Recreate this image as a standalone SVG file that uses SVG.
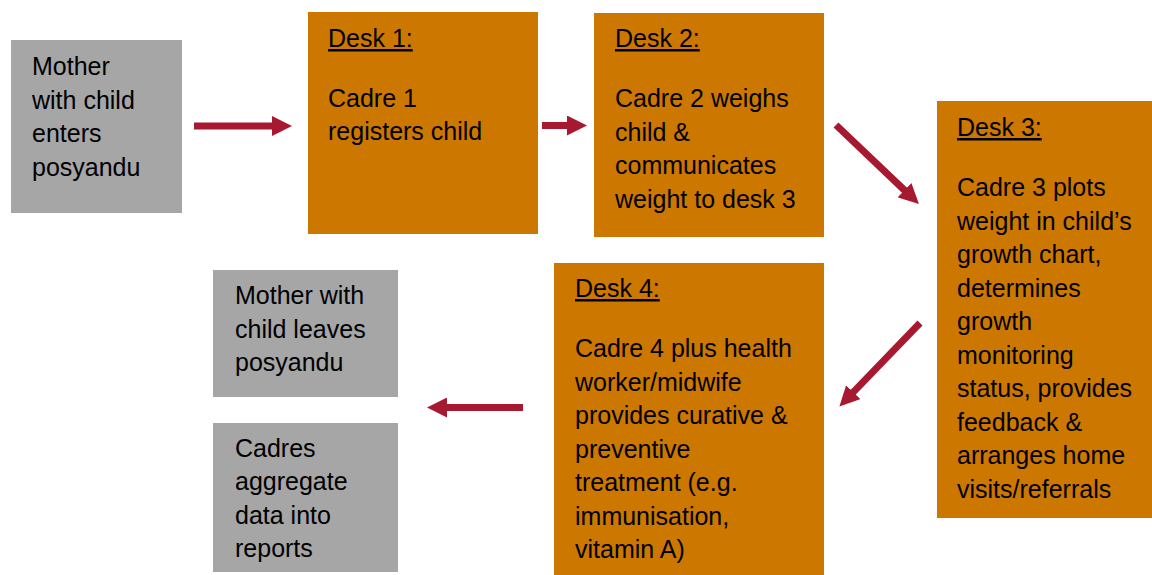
<svg xmlns="http://www.w3.org/2000/svg" width="1152" height="575" viewBox="0 0 1152 575">
<style>
.gray{fill:#A6A6A6}
.desk{fill:#CC7700}
text{font-family:"Liberation Sans",Arial,sans-serif;font-size:25px;fill:#000}
.hd{text-decoration:underline}
.arr{stroke:#A71930;stroke-width:7;fill:none;marker-end:url(#ah)}
</style>
<defs>
<marker id="ah" markerUnits="userSpaceOnUse" markerWidth="20" markerHeight="20" viewBox="0 0 20 20" refX="1" refY="10" orient="auto">
<path d="M0,0 L20,10 L0,20 z" fill="#A71930"/>
</marker>
</defs>
<rect width="1152" height="575" fill="#fff"/>
<g id="start">
<rect class="gray" x="11" y="40" width="171" height="173"/>
<text x="32" y="75">Mother</text>
<text x="32" y="108.5">with child</text>
<text x="32" y="142">enters</text>
<text x="32" y="175.5">posyandu</text>
</g>
<g id="desk1">
<rect class="desk" x="308" y="12" width="230" height="222"/>
<text class="hd" x="328" y="47">Desk 1:</text>
<text x="328" y="107">Cadre 1</text>
<text x="328" y="140">registers child</text>
</g>
<g id="desk2">
<rect class="desk" x="594" y="13" width="230" height="224"/>
<text class="hd" x="615" y="47">Desk 2:</text>
<text x="615" y="107">Cadre 2 weighs</text>
<text x="615" y="140.5">child &amp;</text>
<text x="615" y="174">communicates</text>
<text x="615" y="207.5">weight to desk 3</text>
</g>
<g id="desk3">
<rect class="desk" x="937" y="101" width="215" height="417"/>
<text class="hd" x="957" y="136">Desk 3:</text>
<text x="957" y="196">Cadre 3 plots</text>
<text x="957" y="229.5">weight in child’s</text>
<text x="957" y="263">growth chart,</text>
<text x="957" y="296.5">determines</text>
<text x="957" y="330">growth</text>
<text x="957" y="363.5">monitoring</text>
<text x="957" y="397">status, provides</text>
<text x="957" y="430.5">feedback &amp;</text>
<text x="957" y="464">arranges home</text>
<text x="957" y="497.5">visits/referrals</text>
</g>
<g id="desk4">
<rect class="desk" x="554" y="263" width="270" height="312"/>
<text class="hd" x="575" y="297">Desk 4:</text>
<text x="575" y="357">Cadre 4 plus health</text>
<text x="575" y="390.5">worker/midwife</text>
<text x="575" y="424">provides curative &amp;</text>
<text x="575" y="457.5">preventive</text>
<text x="575" y="491">treatment (e.g.</text>
<text x="575" y="524.5">immunisation,</text>
<text x="575" y="558">vitamin A)</text>
</g>
<g id="leave">
<rect class="gray" x="213" y="270" width="185" height="127"/>
<text x="235" y="304">Mother with</text>
<text x="235" y="337.5">child leaves</text>
<text x="235" y="371">posyandu</text>
</g>
<g id="report">
<rect class="gray" x="213" y="423" width="185" height="149"/>
<text x="235" y="456.5">Cadres</text>
<text x="235" y="490">aggregate</text>
<text x="235" y="523.5">data into</text>
<text x="235" y="557">reports</text>
</g>
<g id="connectors">
<line class="arr" x1="194" y1="126" x2="273" y2="126"/>
<line class="arr" x1="542" y1="125.5" x2="568" y2="125.5"/>
<line class="arr" x1="836" y1="125" x2="905.2" y2="190.9"/>
<line class="arr" x1="920" y1="323" x2="852.6" y2="392.9"/>
<line class="arr" x1="523" y1="407.5" x2="446" y2="407.5"/>
</g>
</svg>
